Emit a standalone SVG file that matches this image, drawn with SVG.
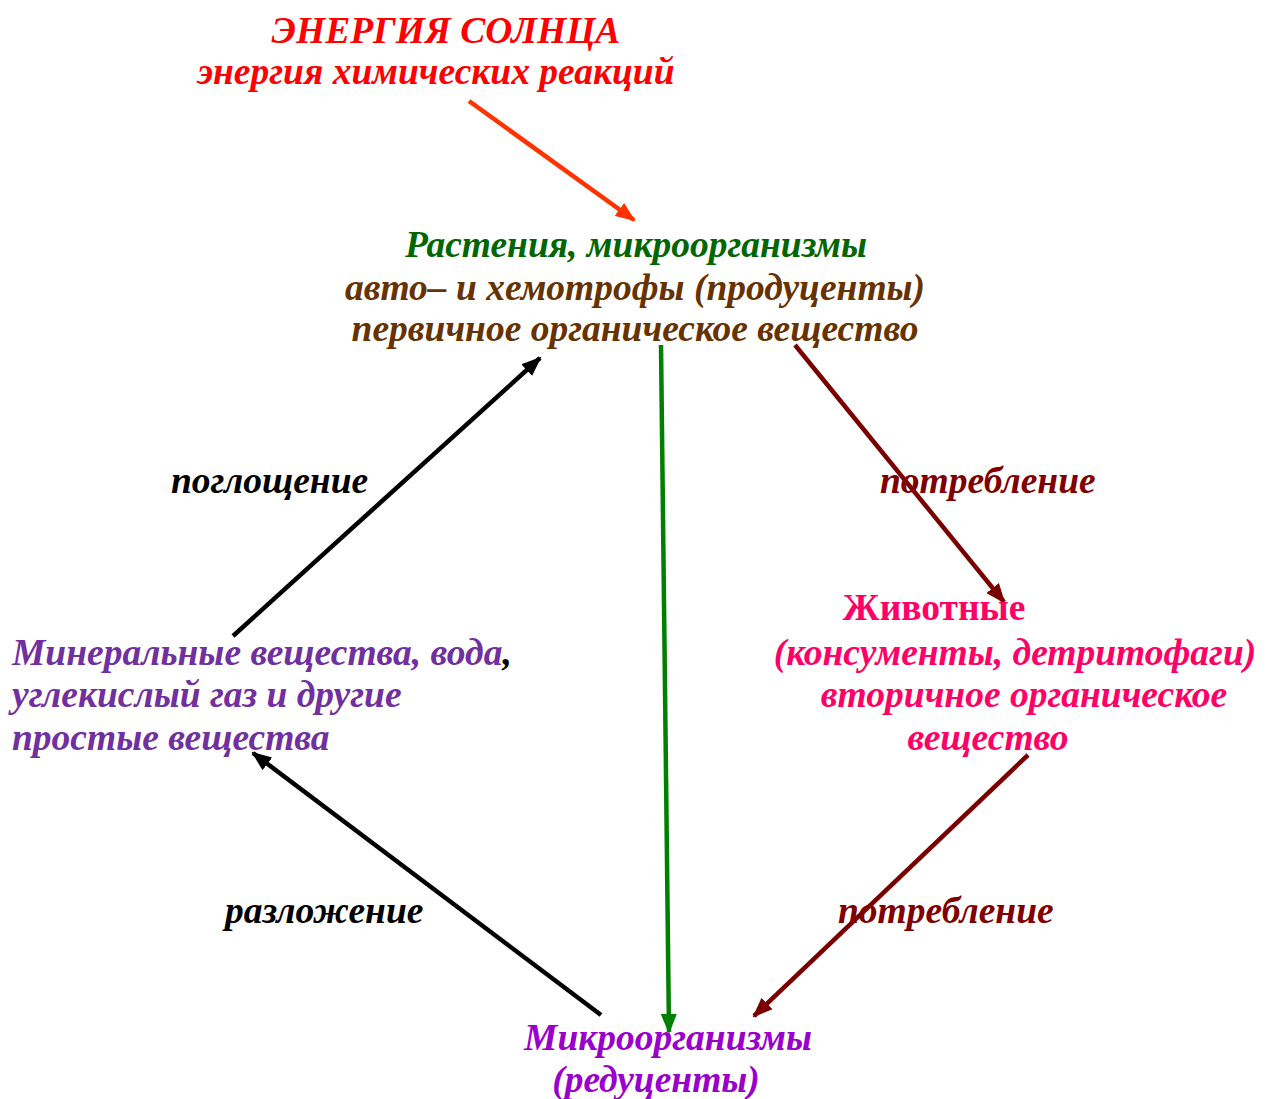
<svg xmlns="http://www.w3.org/2000/svg" width="1273" height="1099" viewBox="0 0 1273 1099">
<style>
text{font-family:"Liberation Serif","Times New Roman",serif;font-size:37.5px;font-weight:bold;font-style:italic}
.c{text-anchor:middle}
.red{fill:#ff0000}
.green{fill:#006600}
.brown{fill:#663300}
.purple{fill:#7030a0}
.pink{fill:#ff0066}
.dred{fill:#800000}
.black{fill:#000000}
.violet{fill:#9900cc}
.up{font-style:normal}
line{stroke-width:4.5;fill:none}
</style>
<defs>
<marker id="aO" markerUnits="userSpaceOnUse" markerWidth="20" markerHeight="16" refX="18" refY="8" orient="auto"><path d="M0,0 L20,8 L0,16 Z" fill="#ff3300"/></marker>
<marker id="aK" markerUnits="userSpaceOnUse" markerWidth="20" markerHeight="16" refX="18" refY="8" orient="auto"><path d="M0,0 L20,8 L0,16 Z" fill="#000000"/></marker>
<marker id="aG" markerUnits="userSpaceOnUse" markerWidth="20" markerHeight="16" refX="18" refY="8" orient="auto"><path d="M0,0 L20,8 L0,16 Z" fill="#008000"/></marker>
<marker id="aR" markerUnits="userSpaceOnUse" markerWidth="20" markerHeight="16" refX="18" refY="8" orient="auto"><path d="M0,0 L20,8 L0,16 Z" fill="#7a0000"/></marker>
</defs>
<g id="connectors">
<line x1="469" y1="101" x2="634" y2="220" stroke="#ff3300" marker-end="url(#aO)"/>
<line x1="233" y1="636" x2="540" y2="358" stroke="#000000" marker-end="url(#aK)"/>
<line x1="661" y1="345" x2="669" y2="1032" stroke="#008000" marker-end="url(#aG)"/>
<line x1="795" y1="345" x2="1004" y2="602" stroke="#7a0000" marker-end="url(#aR)"/>
<line x1="1028" y1="755" x2="754" y2="1016" stroke="#7a0000" marker-end="url(#aR)"/>
<line x1="601" y1="1015" x2="253" y2="753" stroke="#000000" marker-end="url(#aK)"/>
</g>
<g id="sun">
<text class="c red" x="446" y="43">ЭНЕРГИЯ СОЛНЦА</text>
<text class="c red" x="436" y="84">энергия химических реакций</text>
</g>
<g id="producers">
<text class="c green" x="636" y="257">Растения, микроорганизмы</text>
<text class="c brown" x="635" y="300">авто– и хемотрофы (продуценты)</text>
<text class="c brown" x="635" y="341">первичное органическое вещество</text>
</g>
<g id="minerals">
<text class="purple" x="12" y="665">Минеральные вещества, вода<tspan class="black">,</tspan></text>
<text class="purple" x="12" y="707">углекислый газ и другие</text>
<text class="purple" x="12" y="750">простые вещества</text>
</g>
<g id="animals">
<text class="c pink up" x="934" y="620">Животные</text>
<text class="c pink" x="1015" y="665">(консументы, детритофаги)</text>
<text class="c pink" x="1024" y="707">вторичное органическое</text>
<text class="c pink" x="988" y="750">вещество</text>
</g>
<g id="decomposers">
<text class="c violet" x="668" y="1050">Микроорганизмы</text>
<text class="c violet" x="656" y="1092">(редуценты)</text>
</g>
<g id="labels">
<text class="black" x="171" y="493">поглощение</text>
<text class="dred" x="880" y="493">потребление</text>
<text class="black" x="225" y="923">разложение</text>
<text class="dred" x="838" y="923">потребление</text>
</g>
</svg>
